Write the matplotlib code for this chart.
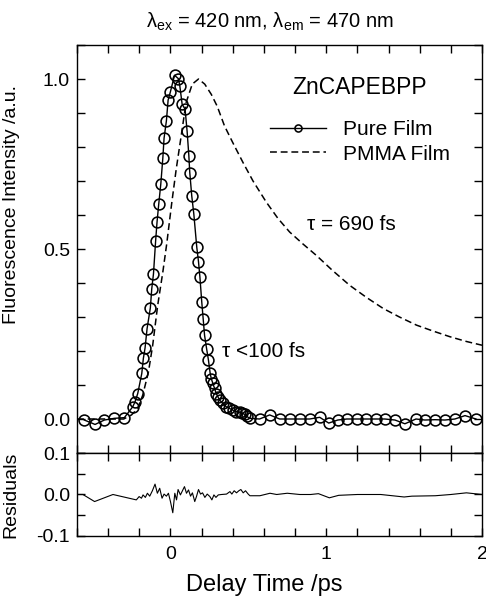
import numpy as np
import matplotlib.pyplot as plt
from matplotlib.ticker import MultipleLocator, FixedLocator

plt.rcParams['font.family'] = ['Liberation Sans', 'DejaVu Sans']
plt.rcParams['mathtext.fontset'] = 'custom'
plt.rcParams['mathtext.rm'] = 'Liberation Sans'
plt.rcParams['axes.unicode_minus'] = False

# pure film (open circles)
pure_t = [-0.553, -0.484, -0.424, -0.36, -0.296, -0.242, -0.227, -0.21, -0.184, -0.174,
          -0.163, -0.15, -0.129, -0.12, -0.109, -0.095, -0.086, -0.075, -0.062, -0.049,
          -0.041, -0.026, -0.015, 0.0, 0.026, 0.051, 0.06, 0.075, 0.094, 0.107,
          0.118, 0.124, 0.137, 0.15, 0.169, 0.18, 0.189, 0.201, 0.21, 0.219,
          0.232, 0.244, 0.255, 0.262, 0.272, 0.283, 0.294, 0.304, 0.315, 0.336,
          0.358, 0.379, 0.401, 0.422, 0.444, 0.461, 0.476, 0.49, 0.508, 0.572,
          0.637, 0.701, 0.765, 0.83, 0.894, 0.958, 1.016, 1.074, 1.132, 1.196,
          1.254, 1.318, 1.376, 1.441, 1.505, 1.576, 1.633, 1.698, 1.762, 1.826,
          1.891, 1.961]
pure_y = [-0.003, -0.016, -0.003, 0.002, 0.004, 0.036, 0.051, 0.075, 0.134, 0.178,
          0.209, 0.266, 0.327, 0.383, 0.427, 0.525, 0.58, 0.633, 0.691, 0.767,
          0.826, 0.877, 0.938, 0.963, 1.011, 1.001, 0.98, 0.926, 0.911, 0.846,
          0.775, 0.725, 0.655, 0.603, 0.505, 0.463, 0.418, 0.344, 0.295, 0.246,
          0.207, 0.173, 0.134, 0.119, 0.105, 0.09, 0.075, 0.066, 0.056, 0.046,
          0.036, 0.031, 0.026, 0.022, 0.02, 0.017, 0.014, 0.008, 0.002, 0.0,
          0.012, 0.0, 0.0, 0.0, 0.0, 0.005, -0.012, -0.003, 0.0, 0.0,
          0.0, 0.0, 0.0, -0.003, -0.014, 0.0, -0.003, -0.002, -0.003, 0.0,
          0.01, 0.0]

# PMMA film (dashed)
pmma_t = [-0.6, -0.3, -0.25, -0.21, -0.178, -0.141, -0.114, -0.082, -0.049, -0.024,
          0.009, 0.037, 0.069, 0.1, 0.14, 0.18, 0.22, 0.262, 0.3, 0.347,
          0.4, 0.465, 0.53, 0.615, 0.69, 0.765, 0.85, 0.937, 1.04, 1.151,
          1.26, 1.366, 1.47, 1.58, 1.69, 1.794, 1.9, 2.0]
pmma_y = [0.0, 0.0, 0.012, 0.031, 0.07, 0.139, 0.217, 0.334, 0.432, 0.515,
          0.638, 0.735, 0.833, 0.93, 0.985, 1.0, 0.985, 0.955, 0.92, 0.862,
          0.813, 0.755, 0.70, 0.638, 0.59, 0.55, 0.515, 0.481, 0.437, 0.393,
          0.357, 0.325, 0.30, 0.276, 0.258, 0.242, 0.228, 0.217]

# residuals of the pure film fit
res_t = [-0.604, -0.562, -0.487, -0.369, -0.219, -0.201, -0.186, -0.176, -0.161, -0.148,
         -0.133, -0.116, -0.099, -0.084, -0.069, -0.054, -0.041, -0.026, -0.013, 0.0,
         0.015, 0.028, 0.039, 0.049, 0.064, 0.077, 0.09, 0.103, 0.116, 0.129,
         0.141, 0.156, 0.167, 0.18, 0.193, 0.206, 0.221, 0.236, 0.253, 0.266,
         0.279, 0.292, 0.307, 0.328, 0.36, 0.382, 0.394, 0.409, 0.424, 0.439,
         0.452, 0.467, 0.482, 0.499, 0.51, 0.574, 0.639, 0.682, 0.75, 0.83,
         0.9, 0.95, 1.02, 1.08, 1.2, 1.35, 1.5, 1.55, 1.7, 1.8,
         1.9, 2.0]
res_y = [0.0, 0.0, -0.017, 0.0, -0.013, -0.005, -0.009, -0.001, -0.007, 0.003,
         -0.004, 0.009, 0.025, 0.003, 0.015, -0.009, 0.001, -0.004, 0.003, -0.017,
         -0.044, 0.003, -0.013, 0.012, -0.001, 0.009, 0.019, 0.003, 0.011, -0.004,
         0.004, -0.017, -0.005, 0.012, 0.001, 0.004, -0.007, 0.001, -0.005, -0.013,
         -0.001, -0.007, -0.001, 0.0, 0.001, 0.007, 0.001, 0.009, 0.004, 0.009,
         0.012, 0.004, 0.009, 0.001, -0.003, -0.003, 0.003, 0.0, 0.003, 0.0,
         0.0, 0.002, -0.008, -0.002, 0.0, 0.0, -0.006, -0.004, -0.003, 0.0,
         0.004, 0.0]

fig = plt.figure(figsize=(4.86, 5.97), dpi=100)
ax = fig.add_axes([0.1584, 0.2412, 0.8334, 0.6834])
axr = fig.add_axes([0.1584, 0.1022, 0.8334, 0.139], sharex=ax)

ax.plot(pmma_t, pmma_y, color='black', lw=1.1, linestyle=(0, (4.5, 2.5)), label='PMMA Film')
ax.plot(pure_t, pure_y, color='black', lw=1.0, marker='o', markersize=7.8,
        markerfacecolor='none', markeredgecolor='black', markeredgewidth=1.15, label='Pure Film')

axr.plot(res_t, res_y, color='black', lw=0.8)

ax.set_xlim(-0.6, 2.0)
ax.set_ylim(-0.1, 1.1)
axr.set_ylim(-0.1, 0.1)

ax.yaxis.set_major_locator(FixedLocator([0.0, 0.5, 1.0]))
ax.yaxis.set_minor_locator(MultipleLocator(0.1))
ax.xaxis.set_major_locator(FixedLocator([0, 1, 2]))
ax.xaxis.set_minor_locator(MultipleLocator(0.2))
axr.yaxis.set_major_locator(FixedLocator([-0.1, 0.0, 0.1]))
axr.yaxis.set_minor_locator(FixedLocator([-0.05, 0.05]))

for a in (ax, axr):
    a.tick_params(which='both', direction='in', top=True, right=True, length=6, width=1.0,
                  labelsize=14, pad=5)
    for s in a.spines.values():
        s.set_linewidth(1.0)
ax.yaxis.set_major_formatter(plt.FormatStrFormatter('%.1f'))
axr.yaxis.set_major_formatter(plt.FormatStrFormatter('%.1f'))
ax.tick_params(labelbottom=False)
axr.tick_params(axis='x', pad=7)

ax.set_ylabel('Fluorescence Intensity /a.u.', fontsize=14)
ax.yaxis.set_label_coords(-0.141, 0.608)
axr.set_ylabel('Residuals', fontsize=14)
axr.yaxis.set_label_coords(-0.141, 0.5)
axr.set_xlabel('Delay Time /ps', fontsize=17)
axr.xaxis.set_label_coords(0.463, -0.59)
axr.xaxis.label.set_va('center')

fig.text(0.556, 0.963, r'λ$_{\mathrm{ex}}$ = 420 nm, λ$_{\mathrm{em}}$ = 470 nm',
         ha='center', va='center', fontsize=14.5)
ax.text(1.215, 0.976, 'ZnCAPEBPP', ha='center', va='center', fontsize=16.5)
ax.text(0.875, 0.573, 'τ = 690 fs', ha='left', va='center', fontsize=15)
ax.text(0.334, 0.198, 'τ <100 fs', ha='left', va='center', fontsize=15)

h, l = ax.get_legend_handles_labels()
ax.legend(h[::-1], l[::-1], loc='upper left', bbox_to_anchor=(0.477, 0.815), frameon=False,
          fontsize=15, handlelength=2.7, handletextpad=0.8, labelspacing=0.25,
          borderpad=0, borderaxespad=0, markerscale=0.65)

plt.savefig('out.png', dpi=100)
